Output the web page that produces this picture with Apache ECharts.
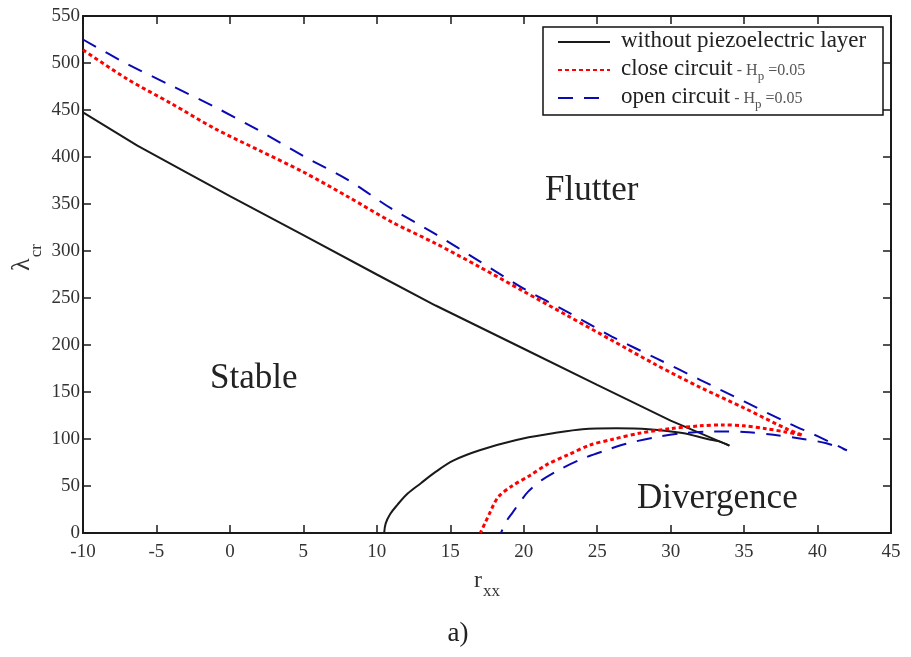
<!DOCTYPE html>
<html>
<head>
<meta charset="utf-8">
<script src="https://cdn.jsdelivr.net/npm/echarts@6/dist/echarts.min.js"></script>
<style>
html,body{margin:0;padding:0;background:#fff;}
#chart{width:911px;height:657px;}
</style>
</head>
<body>
<div id="chart"></div>
<script>
// ---- axis ranges ----
const xRange = [-10, 45, 5];   // min, max, interval
const yRange = [0, 550, 50];

// ---- series names ----
const seriesNames = ['without piezoelectric layer', 'close circuit', 'open circuit'];

// ---- without piezoelectric layer ----
const withoutUpper = [[-10,447.5],[-6.3,412],[-3,384],[0,358.5],[5,317],[10,275],[14,242],[20,196],[25,157.5],[30,119.5],[34,93]];
const withoutLower = [[10.5,0],[10.6,10],[10.9,20],[11.4,30],[12.1,42],[13,53],[14,65],[15.2,77],[17,88],[19.5,99],[22,106],[24,110.5],[26.3,111.5],[28.5,110.5],[30.8,106.5],[32.5,100],[33.3,97.5],[34,93]];

// ---- close circuit ----
const closeUpper = [[-10,514],[-7,483],[-4,457],[-1,430],[2,407],[5,384],[8,358],[11,331],[14,308],[17,283],[20,257],[23,231],[26,205],[29,179],[32,155],[35,133],[38,110],[39,104]];
const closeLower = [[17.05,0],[17.35,10],[17.65,20],[17.95,30],[18.3,39],[19.2,50],[20.4,61],[21.6,73],[23,83],[24.5,93.5],[26,99.5],[28,106.5],[30,111],[32,114],[33.5,115],[35,114],[36.5,111],[37.8,107.5]];

// ---- open circuit ----
const openUpper = [[-10,525],[-7,499],[-4,476],[-1,453],[2,428],[5,401],[8,376],[11,345],[14,318],[17,289],[20,260],[23,235],[26,209],[29,186],[32,163],[35,140],[38,117],[40,103],[42,88]];
const openLower = [[18.45,0],[18.8,12],[19.25,22],[19.75,33],[20.3,44],[21.2,56],[22.5,68],[24,79],[25.5,87.5],[27,95],[29,102],[31,106.5],[33,108],[35,107.5],[37,104.5],[39,100],[40.6,95.5]];

function curve(upper, lower){ return upper.concat(lower.slice().reverse()); }

const serif = 'Liberation Serif, Times New Roman, serif';
const axisCol = '#1a1a1a';

function xAx(pos, show){
  return {
    type:'value', min:xRange[0], max:xRange[1], interval:xRange[2], position:pos,
    axisLine:{show:true, onZero:false, lineStyle:{color:axisCol, width:2}},
    axisTick:{show:true, inside:true, length:8, lineStyle:{color:axisCol, width:1.5}},
    axisLabel:{show:show, margin:10, fontSize:19, fontFamily:serif, color:'#333', showMinLabel:true, showMaxLabel:true},
    splitLine:{show:false}
  };
}
function yAx(pos, show){
  return {
    type:'value', min:yRange[0], max:yRange[1], interval:yRange[2], position:pos,
    axisLine:{show:true, onZero:false, lineStyle:{color:axisCol, width:2}},
    axisTick:{show:true, inside:true, length:8, lineStyle:{color:axisCol, width:1.5}},
    axisLabel:{show:show, margin:3, fontSize:19, fontFamily:serif, color:'#333', showMinLabel:true, showMaxLabel:true},
    splitLine:{show:false}
  };
}

const xMain = xAx('bottom', true);
xMain.name = '{r|r}{s|xx}';
xMain.nameLocation = 'middle';
xMain.nameGap = 36;
xMain.nameMoveOverlap = false;
xMain.nameTextStyle = {
  rich:{
    r:{fontSize:24, fontFamily:serif, color:'#333', lineHeight:26, verticalAlign:'top'},
    s:{fontSize:17, fontFamily:serif, color:'#333', lineHeight:18, padding:[14,0,0,1], verticalAlign:'top'}
  }
};
const yMain = yAx('left', true);
yMain.name = '{l|λ}{s|cr}';
yMain.nameLocation = 'middle';
yMain.nameRotate = 90;
yMain.nameGap = 48;
yMain.nameMoveOverlap = false;
yMain.nameTextStyle = {
  padding:[0,0,0,34],
  rich:{
    l:{fontSize:26, fontFamily:serif, color:'#333', lineHeight:26, verticalAlign:'top'},
    s:{fontSize:17, fontFamily:serif, color:'#333', lineHeight:18, padding:[19,0,0,1], verticalAlign:'top'}
  }
};

// every token padded to the same total height so all legend rows align alike
const legendRich = {
  n:{fontSize:23, fontFamily:serif, color:'#222', verticalAlign:'top', padding:[2,0,5,6]},
  h:{fontSize:16, fontFamily:serif, color:'#555', verticalAlign:'top', padding:[8,0,6,0]},
  p:{fontSize:13, fontFamily:serif, color:'#555', verticalAlign:'top', padding:[15,0,2,0]}
};
function legendRow(i, top){
  return {
    orient:'vertical', left:557, top:top, padding:0, itemGap:0, itemWidth:52, itemHeight:30,
    data:[seriesNames[i]],
    itemStyle:{opacity:0},
    formatter:function(name){
      if(name === seriesNames[0]) return '{n|' + name + '}';
      return '{n|' + name + '}{h| - H}{p|p}{h| =0.05}';
    },
    textStyle:{rich:legendRich}
  };
}

const lineBlack = {color:'#1a1a1a', width:2, type:'solid'};

const option = {
  backgroundColor:'#fff',
  animation:false,
  grid:{left:83, right:20, top:16, bottom:124, containLabel:false, outerBoundsMode:'none'},
  xAxis:[xMain, xAx('top', false)],
  yAxis:[yMain, yAx('right', false)],
  legend:[legendRow(0, 29), legendRow(1, 57), legendRow(2, 85)],
  graphic:[
    {type:'rect', z:3, shape:{x:543, y:27, width:340, height:88}, style:{fill:'#fff', stroke:'#111', lineWidth:1.5}},
    {type:'text', z:5, style:{text:'Flutter', x:545, y:191, fontSize:35, fontFamily:serif, fill:'#222', verticalAlign:'middle'}},
    {type:'text', z:5, style:{text:'Stable', x:210, y:379, fontSize:35, fontFamily:serif, fill:'#222', verticalAlign:'middle'}},
    {type:'text', z:5, style:{text:'Divergence', x:637, y:499, fontSize:35, fontFamily:serif, fill:'#222', verticalAlign:'middle'}},
    {type:'text', z:5, style:{text:'a)', x:458, y:634, fontSize:27, fontFamily:serif, fill:'#222', align:'center', verticalAlign:'middle'}}
  ],
  series:[
    {name:seriesNames[0], type:'line', data:withoutUpper, showSymbol:false, symbol:'none', smooth:false,
     lineStyle:lineBlack, itemStyle:{color:'#1a1a1a'}},
    {name:seriesNames[0], type:'line', data:withoutLower, showSymbol:false, symbol:'none', smooth:0.35,
     lineStyle:lineBlack, itemStyle:{color:'#1a1a1a'}},
    {name:seriesNames[1], type:'line', data:curve(closeUpper, closeLower), showSymbol:false, symbol:'none', smooth:0.3,
     lineStyle:{color:'#ff0000', width:3, type:[4,3]}, itemStyle:{color:'#ff0000'}},
    {name:seriesNames[2], type:'line', data:curve(openUpper, openLower), showSymbol:false, symbol:'none', smooth:0.3,
     lineStyle:{color:'#0a0ab4', width:2, type:[15,11]}, itemStyle:{color:'#0a0ab4'}}
  ]
};
const chart = echarts.init(document.getElementById('chart'), null, {renderer:'canvas'});
chart.setOption(option);
</script>
</body>
</html>
